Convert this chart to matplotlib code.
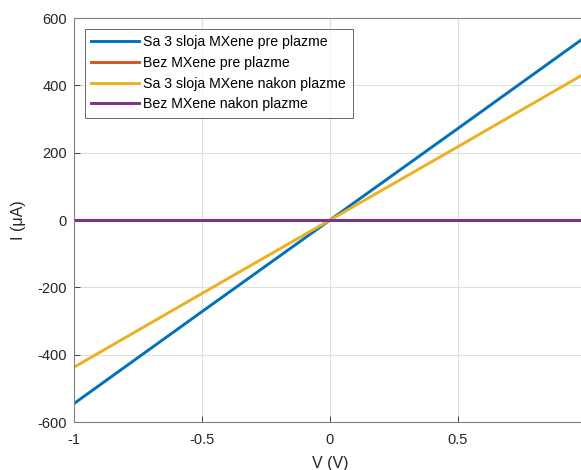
import numpy as np
import matplotlib.pyplot as plt

plt.rcParams['font.family'] = ['Liberation Sans', 'DejaVu Sans']

# napon (V) i struja (uA)
V = [-1.0, -0.5, 0.0, 0.5, 1.0]
I_sa3_pre = [-545, -272, 0, 272, 545]
I_bez_pre = [0, 0, 0, 0, 0]
I_sa3_nakon = [-437, -218, 0, 218, 437]
I_bez_nakon = [0, 0, 0, 0, 0]

labels = ['Sa 3 sloja MXene pre plazme', 'Bez MXene pre plazme',
          'Sa 3 sloja MXene nakon plazme', 'Bez MXene nakon plazme']
colors = ['#0072BD', '#D95319', '#EDB120', '#7E2F8E']

fig = plt.figure(figsize=(5.81, 4.70), dpi=100)
ax = fig.add_axes([0.1274, 0.102, 0.881, 0.8596])

for y, c, l in zip([I_sa3_pre, I_bez_pre, I_sa3_nakon, I_bez_nakon], colors, labels):
    ax.plot(V, y, color=c, lw=2.1, label=l)

ax.set_xlim(-1, 1)
ax.set_ylim(-600, 600)
ax.set_xticks([-1, -0.5, 0, 0.5])
ax.set_xticklabels(['-1', '-0.5', '0', '0.5'])
ax.set_yticks(np.arange(-600, 601, 200))
ax.set_yticklabels([str(v) for v in range(-600, 601, 200)])
ax.grid(True, color='#dfdfdf', lw=0.8)
ax.set_axisbelow(True)
ax.tick_params(direction='in', length=4, colors='#262626', labelsize=10.5, width=0.6)
ax.tick_params(axis='x', pad=8)
ax.tick_params(axis='y', pad=5)
for s in ax.spines.values():
    s.set_color('#808080')
    s.set_linewidth(0.8)

ax.set_xlabel('V (V)', fontsize=11.5, color='#262626', labelpad=6)
ax.set_ylabel('I (μA)', fontsize=11.5, color='#262626', labelpad=8)

leg = ax.legend(loc='upper left', fontsize=10.2, frameon=True, fancybox=False,
                borderpad=0.45, labelspacing=0.48, handlelength=3.4, handletextpad=0.3,
                borderaxespad=0.75)
leg.get_frame().set_edgecolor('#262626')
leg.get_frame().set_linewidth(0.6)

fig.savefig('out.png', dpi=100)
